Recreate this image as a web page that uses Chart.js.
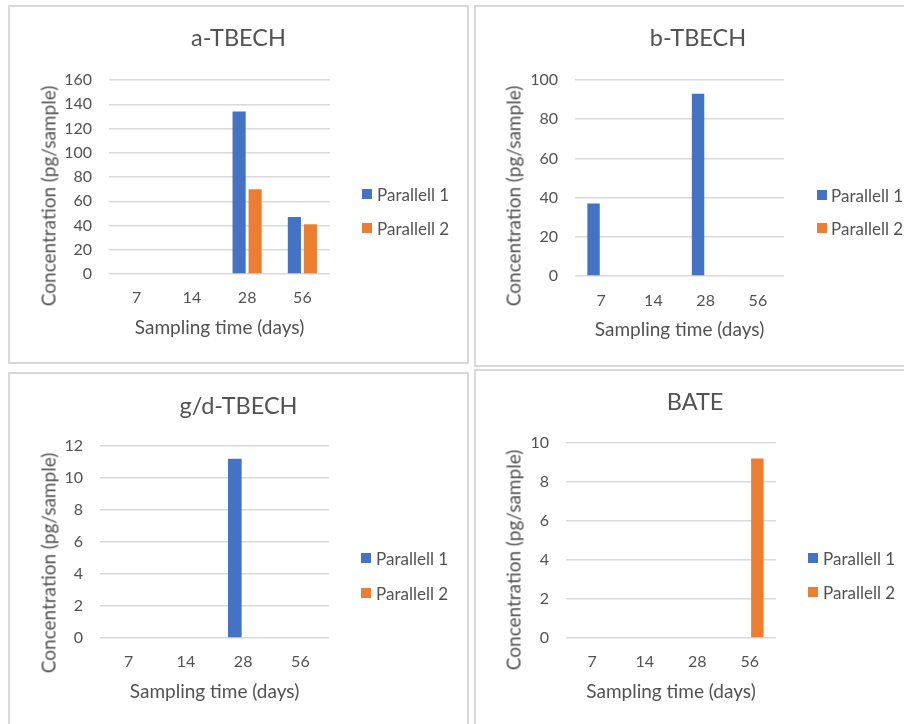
<!DOCTYPE html>
<html>
<head>
<meta charset="utf-8">
<script src="https://cdn.jsdelivr.net/npm/chart.js@4.4.1/dist/chart.umd.min.js"></script>
<style>
  html, body { margin: 0; padding: 0; background: #fff; }
  body { position: relative; width: 904px; height: 724px; overflow: hidden;
         font-family: Lato, "Open Sans", sans-serif; color: #525252; }
  .panel { position: absolute; box-sizing: border-box; border: 2px solid #d9d9d9; background: #fff; }
  canvas { position: absolute; }
  .ytitle { position: absolute; white-space: nowrap; font-size: 19px; line-height: 1;
            transform: translate(-50%, -50%) rotate(-90deg); }
  .swatch { position: absolute; width: 10px; height: 10px; }
  .ltext { position: absolute; white-space: nowrap; font-size: 17px; line-height: 1;
           transform: translateY(-50%); }
</style>
</head>
<body>
<script>
// Sampling days on the category axis
const days = ['7', '14', '28', '56'];
const seriesNames = ['Parallell 1', 'Parallell 2'];

// Concentrations (pg/sample) per compound and parallel
const aTbechP1 = [0, 0, 134, 47];
const aTbechP2 = [0, 0, 70, 41];
const bTbechP1 = [37, 0, 93, 0];
const bTbechP2 = [0, 0, 0, 0];
const gdTbechP1 = [0, 0, 11.2, 0];
const gdTbechP2 = [0, 0, 0, 0];
const bateP1 = [0, 0, 0, 0];
const bateP2 = [0, 0, 0, 9.2];

// Value-axis ranges: [max, step]
const aTbechAxis = [160, 20];
const bTbechAxis = [100, 20];
const gdTbechAxis = [12, 2];
const bateAxis = [10, 2];

const COLORS = ['#4472C4', '#ED7D31'];
const TEXT = '#525252';
const FONT = 'Lato, "Open Sans", sans-serif';
const F_TITLE = 23.5, F_TICK = 16, F_XTITLE = 19, LH = 1.2;

// Panel frames and chart placement on the page
const panels = [
  { title: 'a-TBECH', p1: aTbechP1, p2: aTbechP2, axis: aTbechAxis,
    frame: { l: 8, t: 5, w: 461, h: 359 },
    canvas: { l: 10, t: 7, w: 457, h: 355 },
    plot: { l: 109, r: 330, t: 80, b: 274 },
    titleY: 38, xTickY: 298, xTitleY: 328, yTitle: { x: 48, y: 196 },
    legend: { sx: 362, tx: 377, y: [194, 228] } },
  { title: 'b-TBECH', p1: bTbechP1, p2: bTbechP2, axis: bTbechAxis,
    frame: { l: 474, t: 5, w: 460, h: 362 },
    canvas: { l: 476, t: 7, w: 444, h: 358 },
    plot: { l: 575, r: 784, t: 80, b: 276 },
    titleY: 38, xTickY: 301, xTitleY: 330, yTitle: { x: 513, y: 196 },
    legend: { sx: 817, tx: 831, y: [195, 228] } },
  { title: 'g/d-TBECH', p1: gdTbechP1, p2: gdTbechP2, axis: gdTbechAxis,
    frame: { l: 8, t: 372, w: 461, h: 400 },
    canvas: { l: 10, t: 374, w: 457, h: 350 },
    plot: { l: 100, r: 329, t: 446, b: 638 },
    titleY: 406, xTickY: 662, xTitleY: 692, yTitle: { x: 48, y: 563 },
    legend: { sx: 361, tx: 376, y: [558, 593] } },
  { title: 'BATE', p1: bateP1, p2: bateP2, axis: bateAxis,
    frame: { l: 474, t: 369, w: 460, h: 400 },
    canvas: { l: 476, t: 371, w: 438, h: 353 },
    plot: { l: 566, r: 776, t: 443, b: 638 },
    titleY: 402, xTickY: 662, xTitleY: 692, yTitle: { x: 513, y: 560 },
    legend: { sx: 808, tx: 823, y: [558, 592] } }
];

function el(tag, cls, style, text) {
  const e = document.createElement(tag);
  if (cls) e.className = cls;
  Object.assign(e.style, style);
  if (text !== undefined) e.textContent = text;
  document.body.appendChild(e);
  return e;
}

function px(v) { return v + 'px'; }

panels.forEach(p => {
  el('div', 'panel', { left: px(p.frame.l), top: px(p.frame.t), width: px(p.frame.w), height: px(p.frame.h) });

  const cv = el('canvas', '', { left: px(p.canvas.l), top: px(p.canvas.t) });
  cv.width = p.canvas.w; cv.height = p.canvas.h;
  cv.style.width = px(p.canvas.w); cv.style.height = px(p.canvas.h);

  const c = p.canvas;
  const titleLH = F_TITLE * LH;
  const titlePadTop = p.titleY - c.t - titleLH / 2;
  const titlePadBottom = p.plot.t - c.t - titlePadTop - titleLH;
  const xHeight = c.t + c.h - p.plot.b;
  const tickPad = p.xTickY - p.plot.b - F_TICK * LH / 2;
  const xTitlePadBottom = c.t + c.h - p.xTitleY - F_XTITLE * LH / 2;
  const rightSpace = c.l + c.w - p.plot.r;

  new Chart(cv, {
    type: 'bar',
    data: {
      labels: days,
      datasets: [
        { label: seriesNames[0], data: p.p1, backgroundColor: COLORS[0], borderWidth: 0 },
        { label: seriesNames[1], data: p.p2, backgroundColor: COLORS[1], borderWidth: 0 }
      ]
    },
    options: {
      responsive: false,
      animation: false,
      devicePixelRatio: 1,
      datasets: { bar: { categoryPercentage: 0.58, barPercentage: 0.82 } },
      layout: { padding: 0 },
      plugins: {
        legend: { display: false },
        tooltip: { enabled: false },
        title: {
          display: true, text: p.title, color: TEXT,
          font: { family: FONT, size: F_TITLE, weight: 'normal', lineHeight: LH },
          padding: { top: titlePadTop, bottom: titlePadBottom }
        }
      },
      scales: {
        x: {
          grid: { display: false, drawTicks: false },
          border: { display: false },
          ticks: { color: TEXT, padding: tickPad, font: { family: FONT, size: F_TICK, lineHeight: LH } },
          title: {
            display: true, text: 'Sampling time (days)', color: TEXT,
            font: { family: FONT, size: F_XTITLE, lineHeight: LH },
            padding: { top: 0, bottom: xTitlePadBottom }
          },
          afterFit: s => { s.height = xHeight; }
        },
        y: {
          min: 0, max: p.axis[0],
          grid: { color: '#d9d9d9', lineWidth: 1.5, drawTicks: false },
          border: { display: false },
          ticks: { stepSize: p.axis[1], color: TEXT, padding: 17, font: { family: FONT, size: F_TICK } },
          afterFit: s => { s.width = p.plot.l - c.l; }
        },
        // empty right-hand scale reserving the room where the legend sits
        side: {
          type: 'linear', position: 'right', display: true,
          grid: { display: false, drawTicks: false },
          border: { display: false },
          ticks: { display: false },
          afterFit: s => { s.width = rightSpace; }
        }
      }
    }
  });

  el('div', 'ytitle', { left: px(p.yTitle.x), top: px(p.yTitle.y) }, 'Concentration (pg/sample)');

  seriesNames.forEach((name, i) => {
    el('div', 'swatch', { left: px(p.legend.sx), top: px(p.legend.y[i] - 5), background: COLORS[i] });
    el('div', 'ltext', { left: px(p.legend.tx), top: px(p.legend.y[i]) }, name);
  });
});
</script>
</body>
</html>
